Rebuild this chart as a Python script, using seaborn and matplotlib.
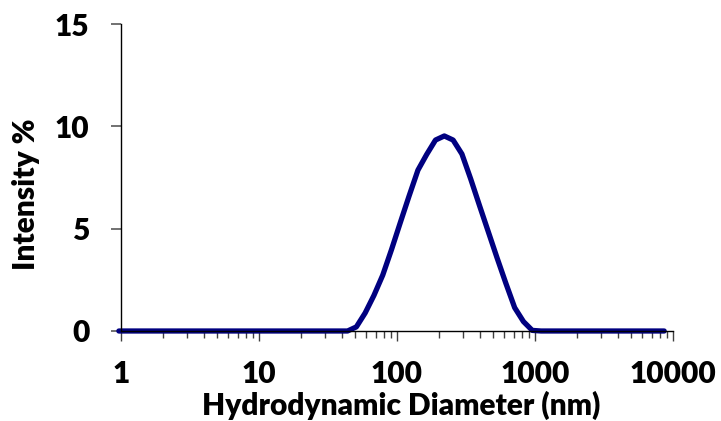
import matplotlib
matplotlib.use("Agg")
import matplotlib.pyplot as plt
import seaborn as sns
import pandas as pd
from matplotlib.ticker import FixedLocator, LogLocator, NullFormatter

size_nm = [0.9649, 1.117, 1.294, 1.499, 1.736, 2.01, 2.328, 2.696, 3.122, 3.615,
           4.187, 4.849, 5.615, 6.503, 7.531, 8.721, 10.1, 11.7, 13.54, 15.69,
           18.17, 21.04, 24.36, 28.21, 32.67, 37.84, 43.82, 50.75, 58.77, 68.06,
           78.82, 91.28, 105.7, 122.4, 141.8, 164.2, 190.1, 220.2, 255.0, 295.3,
           342.0, 396.1, 458.7, 531.2, 615.1, 712.4, 825.0, 955.4, 1106, 1281,
           1484, 1718, 1990, 2305, 2669, 3091, 3580, 4145, 4801, 5560,
           6439, 7456, 8635]
intensity = [0, 0, 0, 0, 0, 0, 0, 0, 0, 0,
             0, 0, 0, 0, 0, 0, 0, 0, 0, 0,
             0, 0, 0, 0, 0, 0, 0, 0.2, 0.88, 1.74,
             2.73, 3.98, 5.3, 6.6, 7.86, 8.63, 9.33, 9.53, 9.33, 8.65,
             7.43, 6.13, 4.85, 3.57, 2.33, 1.14, 0.46, 0.03, 0, 0,
             0, 0, 0, 0, 0, 0, 0, 0, 0, 0,
             0, 0, 0]
x_ticks = [1, 10, 100, 1000, 10000]
x_tick_labels = ["1", "10", "100", "1000", "10000"]
y_ticks = [0, 5, 10, 15]

df = pd.DataFrame({"size": size_nm, "intensity": intensity})

sns.set_style("ticks")
plt.rcParams['font.family'] = ['Lato', 'DejaVu Sans']
plt.rcParams['font.weight'] = 'bold'

fig = plt.figure(figsize=(7.21, 4.21), dpi=100)
ax = fig.add_axes([121/721, 1 - 331/421, (673 - 121)/721, (331 - 24)/421])

sns.lineplot(data=df, x="size", y="intensity", ax=ax, color="#000080",
             linewidth=3.8, estimator=None, sort=False, clip_on=False)

ax.set_xscale("log")
ax.set_xlim(1, 10000)
ax.set_ylim(0, 15)
ax.xaxis.set_major_locator(FixedLocator(x_ticks))
ax.set_xticklabels(x_tick_labels)
ax.xaxis.set_minor_locator(LogLocator(base=10, subs=range(2, 10), numticks=20))
ax.xaxis.set_minor_formatter(NullFormatter())
ax.set_yticks(y_ticks)

sns.despine(ax=ax)
for s in ["left", "bottom"]:
    ax.spines[s].set_color("black")
    ax.spines[s].set_linewidth(1.0)

fs = 21.5
ax.tick_params(axis="x", which="major", length=7.2, width=1, color="#404040",
               labelsize=fs, pad=14)
ax.tick_params(axis="x", which="minor", length=5, width=1, color="#404040")
ax.tick_params(axis="y", which="major", length=7.2, width=1.2, color="#595959",
               labelsize=fs, pad=15.5)
for lab in ax.get_xticklabels() + ax.get_yticklabels():
    lab.set_fontweight("heavy")
    lab.set_color("black")

ax.set_xlabel("Hydrodynamic Diameter (nm)", fontsize=fs, fontweight="heavy",
              labelpad=2, color="black")
ax.set_ylabel("Intensity %", fontsize=fs, fontweight="heavy", labelpad=11,
              color="black")
ax.xaxis.label.set_x(0.508)
ax.yaxis.label.set_y(0.446)

fig.savefig("out.png", dpi=100)
